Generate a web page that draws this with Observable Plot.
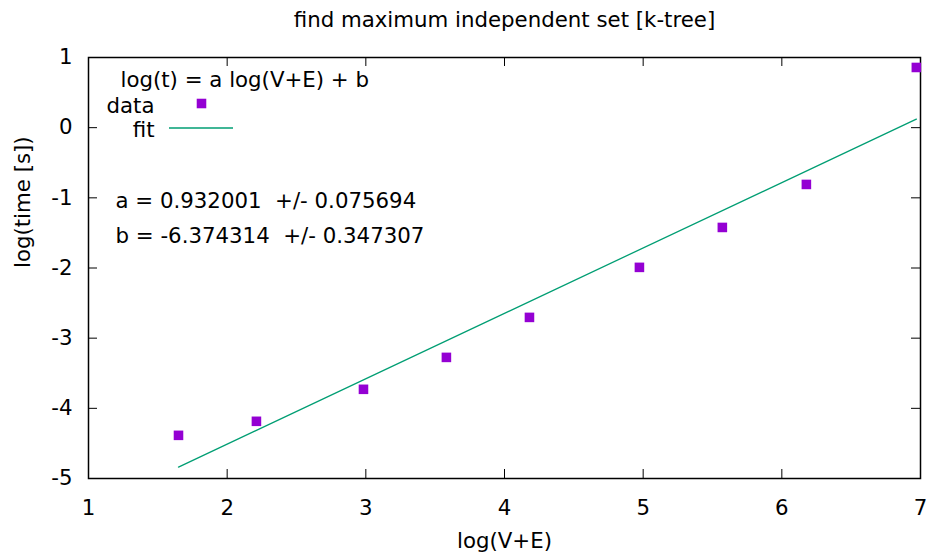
<!DOCTYPE html>
<html>
<head>
<meta charset="utf-8">
<script src="https://cdn.jsdelivr.net/npm/d3@7"></script>
<script src="https://cdn.jsdelivr.net/npm/@observablehq/plot@0.6"></script>
<style>
  html, body { margin: 0; padding: 0; background: #fff; }
  svg text { white-space: pre; }
</style>
</head>
<body>
<div id="chart"></div>
<script>
// Measured runtimes: log of graph size vs log of time
const logSize = [1.649, 2.211, 2.983, 3.581, 4.180, 4.973, 5.571, 6.177, 6.970];
const logTime = [-4.385, -4.185, -3.729, -3.274, -2.704, -1.991, -1.422, -0.809, 0.858];

// Linear fit log(t) = a log(V+E) + b
const fitA = 0.932001, fitAErr = 0.075694;
const fitB = -6.374314, fitBErr = 0.347307;

const xTicks = [1, 2, 3, 4, 5, 6, 7];
const yTicks = [-5, -4, -3, -2, -1, 0, 1];

const titleText = "find maximum independent set [k-tree]";
const xLabel = "log(V+E)";
const yLabel = "log(time [s])";
const formulaText = "log(t) = a log(V+E) + b";
const dataLabel = "data";
const fitLabel = "fit";
const aText = `a = ${fitA.toFixed(6)}  +/- ${fitAErr.toFixed(6)}`;
const bText = `b = ${fitB.toFixed(6)}  +/- ${fitBErr.toFixed(6)}`;

const points = logSize.map((x, i) => ({x, y: logTime[i]}));
const xMin = d3.min(logSize), xMax = d3.max(logSize);
const fitLine = [xMin, xMax].map(x => ({x, y: fitA * x + fitB}));

const dataColor = "#9400d3";
const fitColor = "#009e73";

const W = 931, H = 556;
const mL = 88, mR = 11, mT = 57, mB = 78;
const frameW = W - mL - mR, frameH = H - mT - mB;
const tickLen = 9;
const fs = 21.3;

const label = (txt, opts) => Plot.text([txt], {text: d => d, fill: "#000", fontSize: fs, ...opts});

const chart = Plot.plot({
  width: W,
  height: H,
  marginLeft: mL,
  marginRight: mR,
  marginTop: mT,
  marginBottom: mB,
  style: {fontFamily: "'DejaVu Sans', sans-serif", background: "#fff", color: "#000"},
  x: {domain: [1, 7]},
  y: {domain: [-5, 1]},
  marks: [
    Plot.axisX({ticks: xTicks, tickSize: 0, tickPadding: 21, fontSize: fs, label: null, tickFormat: d => String(d)}),
    Plot.axisY({ticks: yTicks, tickSize: 0, tickPadding: 16, fontSize: fs, label: null, tickFormat: d => String(d)}),
    // inward ticks on all four sides
    Plot.tickX(xTicks, {x: d => d, insetTop: frameH - tickLen, stroke: "#000", strokeWidth: 1}),
    Plot.tickX(xTicks, {x: d => d, insetBottom: frameH - tickLen, stroke: "#000", strokeWidth: 1}),
    Plot.tickY(yTicks, {y: d => d, insetRight: frameW - tickLen, stroke: "#000", strokeWidth: 1}),
    Plot.tickY(yTicks, {y: d => d, insetLeft: frameW - tickLen, stroke: "#000", strokeWidth: 1}),
    Plot.frame({stroke: "#000", strokeWidth: 1.5}),
    // fitted line and measurements
    Plot.line(fitLine, {x: "x", y: "y", stroke: fitColor, strokeWidth: 1.3}),
    Plot.dot(points, {x: "x", y: "y", symbol: "square", r: 5.4, fill: dataColor, stroke: "none"}),
    // key
    label(formulaText, {frameAnchor: "top-left", textAnchor: "start", lineAnchor: "bottom", dx: 32, dy: 29}),
    label(dataLabel, {frameAnchor: "top-left", textAnchor: "end", lineAnchor: "bottom", dx: 66, dy: 55}),
    Plot.dot([0], {frameAnchor: "top-left", dx: 113, dy: 46, symbol: "square", r: 5.4, fill: dataColor, stroke: "none"}),
    label(fitLabel, {frameAnchor: "top-left", textAnchor: "end", lineAnchor: "bottom", dx: 66, dy: 79}),
    (index, scales, values, dims) => d3.create("svg:line")
      .attr("x1", dims.marginLeft + 81).attr("x2", dims.marginLeft + 145)
      .attr("y1", dims.marginTop + 71).attr("y2", dims.marginTop + 71)
      .attr("stroke", fitColor).attr("stroke-width", 1.3)
      .node(),
    label(aText, {frameAnchor: "top-left", textAnchor: "start", lineAnchor: "bottom", dx: 27, dy: 150}),
    label(bText, {frameAnchor: "top-left", textAnchor: "start", lineAnchor: "bottom", dx: 27, dy: 185}),
    // titles
    label(titleText, {frameAnchor: "top", lineAnchor: "middle", dy: -37}),
    label(xLabel, {frameAnchor: "bottom", lineAnchor: "middle", dy: 63}),
    label(yLabel, {frameAnchor: "left", lineAnchor: "middle", rotate: -90, dx: -65})
  ]
});

document.getElementById("chart").appendChild(chart);
</script>
</body>
</html>
